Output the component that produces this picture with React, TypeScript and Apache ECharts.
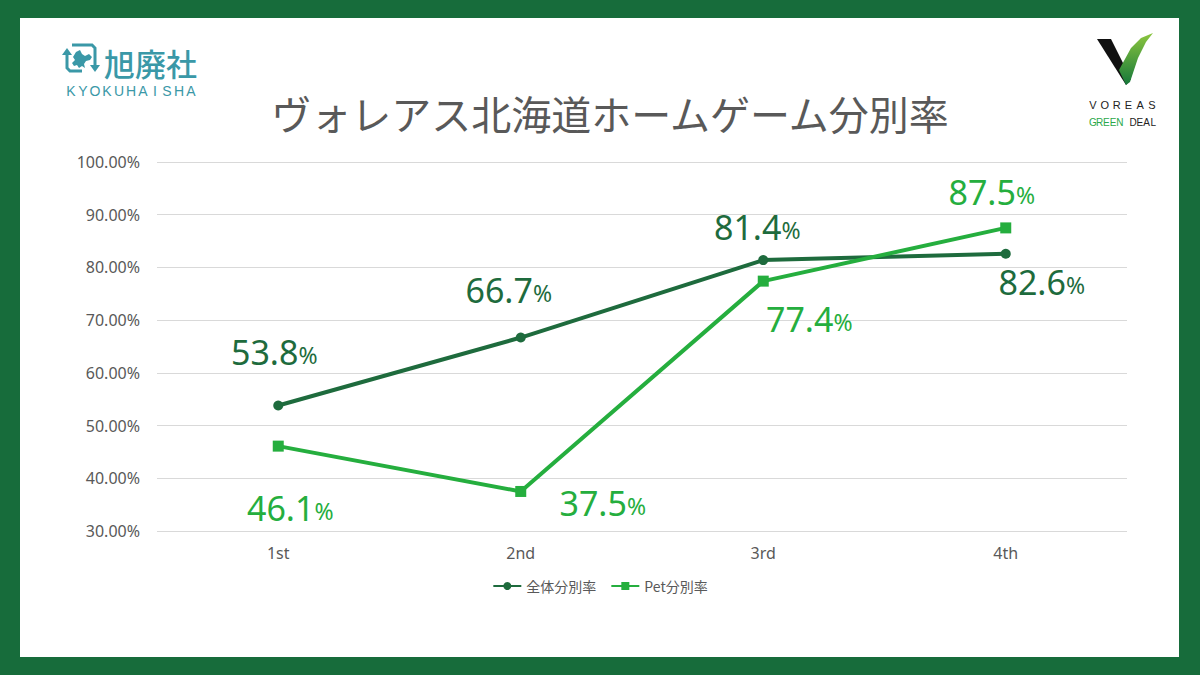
import React, { useEffect, useRef } from "react";
import * as echarts from "echarts";

const categories = ["1st", "2nd", "3rd", "4th"];
const totalRate = [53.8, 66.7, 81.4, 82.6];
const petRate = [46.1, 37.5, 77.4, 87.5];
const yTicks = { min: 30, max: 100, interval: 10 };
const seriesNames = ["全体分別率", "Pet分別率"];
const totalLabelOffsets = [[-4, -54], [-12, -48], [-6, -33], [36, 28]];
const petLabelOffsets = [[12, 62], [82, 12], [46, 38], [-14, -36]];

const DARK = "#1e6b3d";
const LIGHT = "#25ae3e";
const BORDER = "#176c3b";
const TEAL = "#3a98a7";

export default function App() {
  const ref = useRef<HTMLDivElement>(null);
  useEffect(() => {
    document.body.style.margin = "0";
    const chart = echarts.init(ref.current!, null, { renderer: "svg" });

    const mkLabel = (color: string) => ({
      show: true,
      position: "inside",
      color,
      formatter: (p: any) => `{n|${p.value.toFixed(1)}}{p|%}`,
      rich: {
        n: { fontSize: 34, color, fontFamily: "'Noto Sans', Roboto, sans-serif" },
        p: { fontSize: 23, color, fontFamily: "'Noto Sans', Roboto, sans-serif", padding: [6, 0, 0, 0] },
      },
    });

    const letters = (txt: string, x0: number, step: number, y: number, size: number, colorFn: (i: number) => string, font: string) =>
      txt.split("").map((ch, i) => ({
        type: "text",
        x: x0 + i * step,
        y,
        style: { text: ch, fill: colorFn(i), fontSize: size, font: `${size}px ${font}`, align: "center", verticalAlign: "middle" },
        silent: true,
      }));

    echarts.graphic.registerShape(
      "hokkaido",
      echarts.graphic.extendPath(
        "M4 2 L8 0 L10 4 L13 6 L17 4 L20 7 L18 10 L14 11 L12 14 L13 18 L10 16 L7 18 L5 15 L2 16 L0 13 L3 10 L1 7 Z",
        {}
      )
    );

    const option: any = {
      animation: false,
      backgroundColor: BORDER,
      title: {
        text: "ヴォレアス北海道ホームゲーム分別率",
        left: 605,
        textAlign: "center",
        top: 88,
        textStyle: {
          fontSize: 40,
          fontWeight: "normal",
          color: "#595959",
          fontFamily: "'Noto Sans CJK JP', sans-serif",
        },
      },
      grid: { left: 157, right: 73, top: 162, bottom: 144 },
      legend: {
        data: seriesNames,
        top: 574,
        left: "center",
        itemWidth: 28,
        itemHeight: 10,
        itemGap: 14,
        textStyle: { fontSize: 14, color: "#595959", fontFamily: "'Noto Sans CJK JP', sans-serif" },
      },
      xAxis: {
        type: "category",
        data: categories,
        boundaryGap: true,
        axisLine: { show: false },
        axisTick: { show: false },
        axisLabel: { fontSize: 16, color: "#595959", margin: 14, fontFamily: "'Noto Sans', Roboto, sans-serif" },
      },
      yAxis: {
        type: "value",
        min: yTicks.min,
        max: yTicks.max,
        interval: yTicks.interval,
        axisLine: { show: false },
        axisTick: { show: false },
        axisLabel: {
          fontSize: 16,
          color: "#595959",
          margin: 17,
          fontFamily: "'Noto Sans', Roboto, sans-serif",
          formatter: (v: number) => v.toFixed(2) + "%",
        },
        splitLine: { lineStyle: { color: "#d9d9d9", width: 1 } },
      },
      series: [
        {
          name: seriesNames[0],
          type: "line",
          data: totalRate.map((v, i) => ({ value: v, label: { offset: totalLabelOffsets[i] } })),
          symbol: "circle",
          symbolSize: 10,
          lineStyle: { color: DARK, width: 4 },
          itemStyle: { color: DARK },
          label: mkLabel(DARK),
          z: 3,
        },
        {
          name: seriesNames[1],
          type: "line",
          data: petRate.map((v, i) => ({ value: v, label: { offset: petLabelOffsets[i] } })),
          symbol: "rect",
          symbolSize: 11,
          lineStyle: { color: LIGHT, width: 4 },
          itemStyle: { color: LIGHT },
          label: mkLabel(LIGHT),
          z: 4,
        },
      ],
      graphic: [
        { type: "rect", z: -10, shape: { x: 20, y: 18, width: 1159, height: 639 }, style: { fill: "#ffffff" }, silent: true },
        // Kyokuhaisha icon
        { type: "polyline", shape: { points: [[67, 54], [67, 68], [70, 71], [82, 71]] }, style: { stroke: TEAL, lineWidth: 3, fill: "none" } },
        { type: "polygon", shape: { points: [[62, 55], [72, 55], [67, 48]] }, style: { fill: TEAL } },
        { type: "polyline", shape: { points: [[72, 45], [92, 45], [95, 48], [95, 66]] }, style: { stroke: TEAL, lineWidth: 3, fill: "none" } },
        { type: "polygon", shape: { points: [[90, 65], [100, 65], [95, 72]] }, style: { fill: TEAL } },
        { type: "hokkaido", x: 72, y: 50, scaleX: 1.0, scaleY: 1.0, style: { fill: TEAL } },
        {
          type: "text",
          x: 104,
          y: 62,
          style: { text: "旭廃社", fill: TEAL, font: "500 31px 'Noto Sans CJK JP', sans-serif", verticalAlign: "middle" },
        },
        ...letters("KYOKUHAISHA", 71, 12.0, 91, 14, () => TEAL, "'DejaVu Sans', sans-serif"),
        // VOREAS logo
        { type: "polygon", shape: { points: [[1097, 39], [1111, 39], [1131, 79], [1126, 85]] }, style: { fill: "#111111" } },
        {
          type: "polygon",
          shape: { points: [[1126, 85], [1119, 70], [1131, 48], [1141, 38], [1153, 33], [1146, 42], [1138, 58], [1130, 82]] },
          style: {
            fill: new echarts.graphic.LinearGradient(0, 0, 0, 1, [
              { offset: 0, color: "#8cc63f" },
              { offset: 1, color: "#15783a" },
            ]),
          },
        },
        ...letters("VOREAS", 1093, 11.8, 105, 11, () => "#222222", "'DejaVu Sans Condensed', sans-serif"),
        ...letters("GREEN DEAL", 1093, 6.7, 122, 10, (i) => (i < 5 ? "#2aa84a" : "#222222"), "'DejaVu Sans Condensed', sans-serif"),
      ],
    };
    chart.setOption(option);
    return () => chart.dispose();
  }, []);
  return <div ref={ref} style={{ position: "absolute", left: 0, top: 0, width: 1200, height: 675 }} />;
}
